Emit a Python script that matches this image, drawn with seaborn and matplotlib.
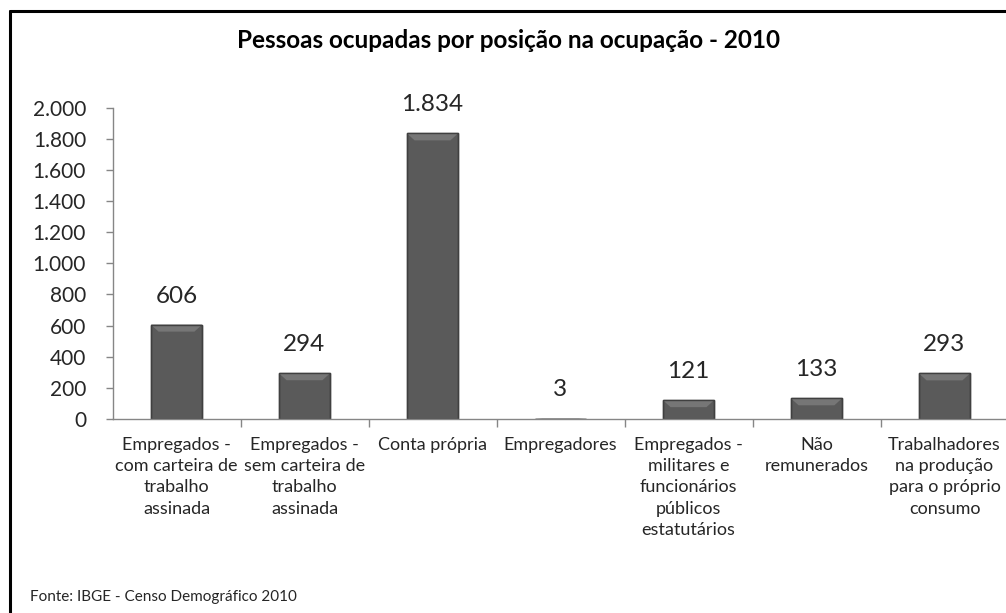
import matplotlib
matplotlib.use('Agg')
import matplotlib.pyplot as plt
import matplotlib.lines as mlines
from matplotlib.patches import Polygon
import numpy as np
import pandas as pd
import seaborn as sns

# Dados - Censo 2010
categorias = [
    "Empregados -\ncom carteira de\ntrabalho\nassinada",
    "Empregados -\nsem carteira de\ntrabalho\nassinada",
    "Conta própria",
    "Empregadores",
    "Empregados -\nmilitares e\nfuncionários\npúblicos\nestatutários",
    "Não\nremunerados",
    "Trabalhadores\nna produção\npara o próprio\nconsumo",
]
valores = [606, 294, 1834, 3, 121, 133, 293]
rotulos_valores = ["606", "294", "1.834", "3", "121", "133", "293"]
yticks = [0, 200, 400, 600, 800, 1000, 1200, 1400, 1600, 1800, 2000]
ytick_labels = ["0", "200", "400", "600", "800", "1.000", "1.200", "1.400", "1.600", "1.800", "2.000"]

df = pd.DataFrame({"categoria": categorias, "valor": valores})

sns.set_style("white")
plt.rcParams['font.family'] = ['Lato', 'DejaVu Sans']

fig = plt.figure(figsize=(10.06, 6.13), dpi=100)
ax = fig.add_axes([112.5 / 1006, (613 - 419) / 613, 896 / 1006, 311.5 / 613])

sns.barplot(data=df, x="categoria", y="valor", color="#5a5a5a", width=0.4,
            edgecolor="#404040", linewidth=1.0, saturation=1, ax=ax)

# efeito de chanfro no topo das barras
for p in ax.patches:
    x0, w, h = p.get_x(), p.get_width(), p.get_height()
    bh = min(h, 45)
    ins = w * 0.15
    ax.add_patch(Polygon([(x0, h), (x0 + w, h), (x0 + w - ins, h - bh), (x0 + ins, h - bh)],
                         closed=True, facecolor="#767676", edgecolor="none",
                         zorder=p.get_zorder() + 0.1))
    ax.add_patch(plt.Rectangle((x0, 0), w, h, facecolor="none", edgecolor="#404040",
                               lw=1.0, zorder=p.get_zorder() + 0.2))

for i, (v, lab) in enumerate(zip(valores, rotulos_valores)):
    ax.annotate(lab, (i, v), xytext=(0, 13), textcoords="offset points",
                ha="center", va="bottom", fontsize=17.5, color="#262626")

ax.set_xlim(-0.5, 6.5)
ax.set_ylim(0, 2000)
ax.set_yticks(yticks)
ax.set_yticklabels(ytick_labels)
ax.set_xlabel("")
ax.set_ylabel("")

ax.tick_params(axis="y", which="major", length=5, width=1, color="#868686",
               pad=14, labelsize=15, labelcolor="#262626", left=True)
ax.set_xticks(range(len(categorias)))
ax.set_xticklabels(categorias, fontsize=13, color="#262626", linespacing=1.4)
ax.tick_params(axis="x", which="major", length=0, pad=13)
ax.set_xticks(np.arange(0.5, 6.5, 1), minor=True)
ax.tick_params(axis="x", which="minor", length=6, width=1, color="#868686", bottom=True)

for s in ["top", "right"]:
    ax.spines[s].set_visible(False)
for s in ["left", "bottom"]:
    ax.spines[s].set_color("#868686")
    ax.spines[s].set_linewidth(1)

fig.text(0.505, 1 - 40 / 613, "Pessoas ocupadas por posição na ocupação - 2010",
         ha="center", va="center", fontsize=17.5, fontweight="bold", color="black")
fig.text(30 / 1006, 1 - 597 / 613, "Fonte: IBGE - Censo Demográfico 2010",
         ha="left", va="center", fontsize=11, color="#262626")

# moldura (apenas esquerda e topo visíveis no recorte)
fig.add_artist(mlines.Line2D([10 / 1006, 10 / 1006], [0, 1 - 11 / 613], transform=fig.transFigure,
                             color="black", lw=2.2))
fig.add_artist(mlines.Line2D([10 / 1006, 1], [1 - 11 / 613, 1 - 11 / 613], transform=fig.transFigure,
                             color="black", lw=2.2))

fig.savefig("out.png", dpi=100, facecolor="white")
